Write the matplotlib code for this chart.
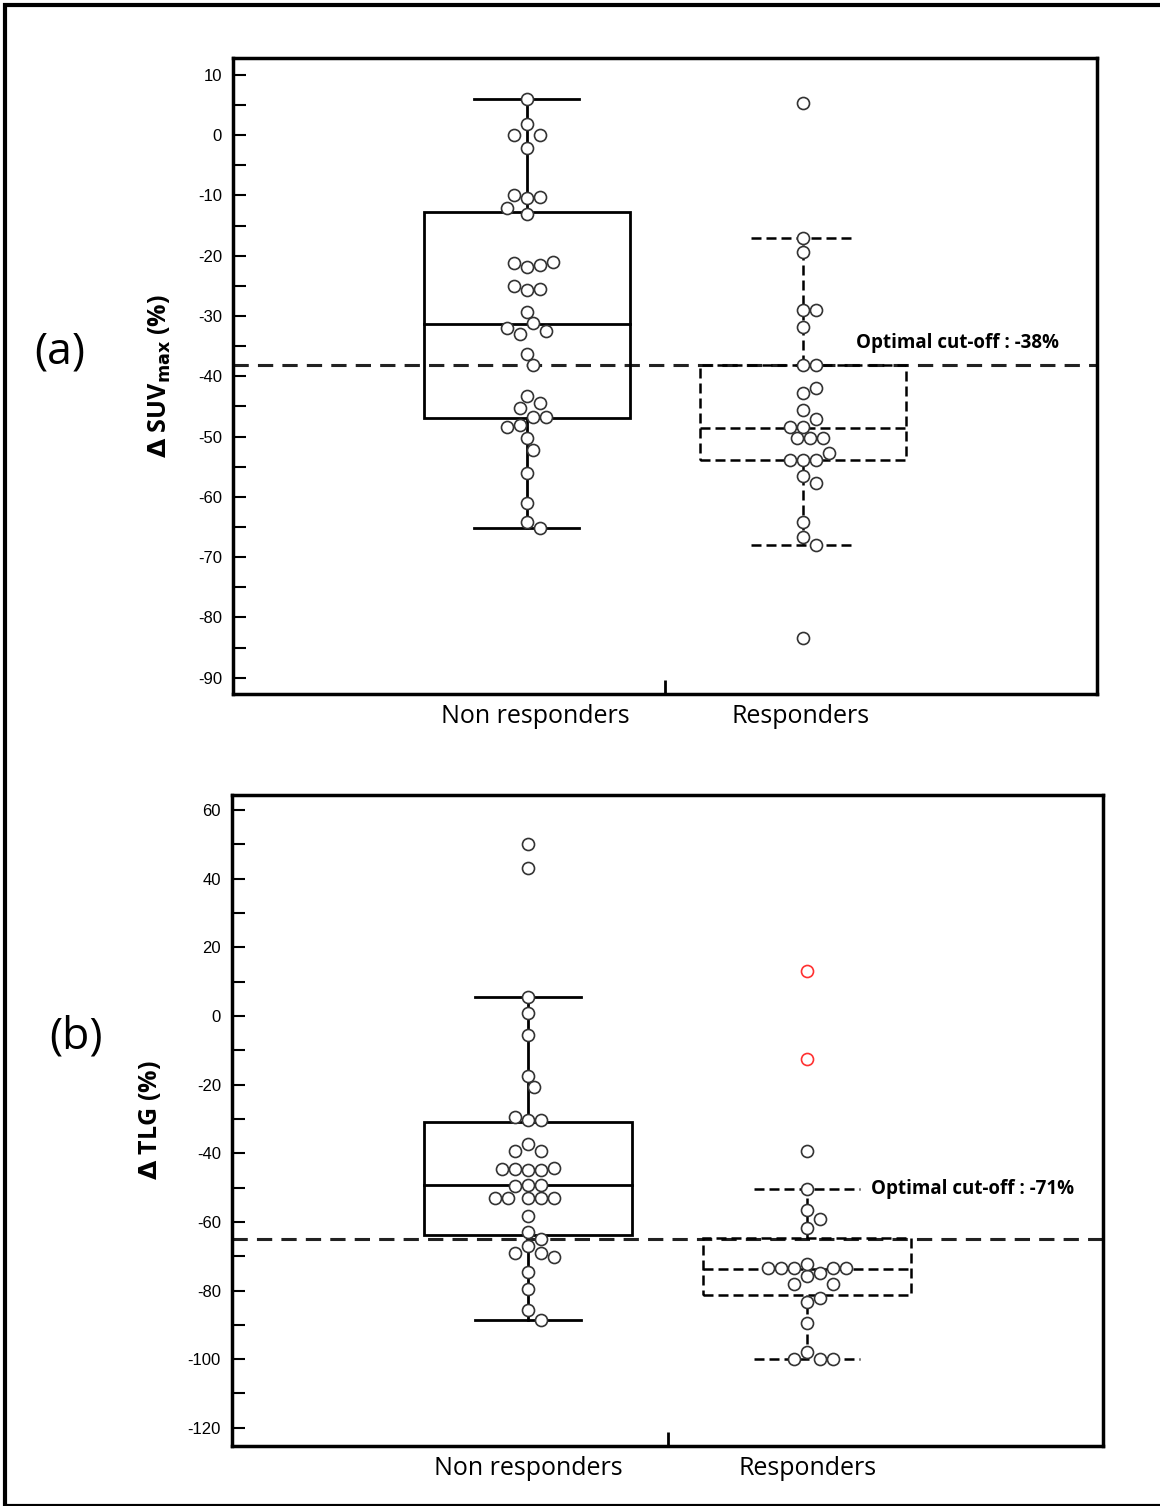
import numpy as np
import matplotlib
matplotlib.use("Agg")
import matplotlib.pyplot as plt
from matplotlib.patches import Rectangle

plt.rcParams['font.family'] = ['Open Sans', 'DejaVu Sans']

groups = ["Non responders", "Responders"]

# Panel (a): delta SUVmax (%)
suv_nr = [6, 1.8, 0, 0, -2.1, -10.5, -10.3, -10, -12, -13, -21.8, -21.5, -21.2, -21,
          -25.7, -25.5, -25, -29.3, -31.2, -33, -32.5, -32, -36.3, -38.2, -43.3, -44.5,
          -45.3, -46.7, -46.7, -48, -48.4, -50.3, -52.2, -56, -61, -64.1, -65.2]
suv_r = [5.3, -17, -19.3, -29, -29, -31.8, -38.2, -38.2, -42.8, -42, -45.6, -47, -48.4,
         -48.4, -50.3, -50.3, -50.3, -53.9, -53.9, -53.9, -52.8, -56.6, -57.7, -64.1,
         -66.6, -68, -83.4]
suv_stats = {  # whislo, q1, med, q3, whishi
    "Non responders": [-65.2, -46.9, -31.4, -12.7, 6],
    "Responders": [-68, -53.9, -48.6, -38.2, -17],
}
suv_cut = -38.2

# Panel (b): delta TLG (%)
tlg_nr = [50.1, 43.1, 5.5, 0.8, -5.6, -17.4, -20.6, -30.3, -30.3, -29.5, -37.3, -39.4, -39.4,
          -45, -45, -44.5, -44.3, -44.5, -49.2, -49.2, -49.5, -52.9, -52.9, -52.9, -52.9,
          -52.9, -58.2, -62.9, -65, -67, -69, -69, -70.2, -74.6, -79.5, -85.8, -88.6]
tlg_r = [-39.4, -50.3, -56.6, -59.2, -61.8, -75.9, -75, -73.3, -73.3, -73.3, -72.2,
         -73.3, -73.3, -78, -78, -83.2, -82.3, -89.5, -97.8, -100, -100, -100]
tlg_r_red = [13.1, -12.4]
tlg_stats = {
    "Non responders": [-88.6, -63.9, -49.3, -30.8, 5.5],
    "Responders": [-100, -81.4, -73.8, -64.7, -50.3],
}
tlg_cut = -65

W, H = 1160, 1506
fig = plt.figure(figsize=(W / 100, H / 100), dpi=100)
fig.patches.append(Rectangle((5 / W, 0), 1.2, (H - 5) / H, transform=fig.transFigure,
                             fill=False, lw=3, ec='black'))


def swarm(ax, vals, xc, d=13.0):
    pts = []
    trans = ax.transData
    out = []
    for v in vals:
        _, py = trans.transform((xc, v))
        xc_px, _ = trans.transform((xc, 0))
        for k in range(0, 20):
            cands = [0] if k == 0 else [k * d / 2, -k * d / 2]
            ok = None
            for c in cands:
                if all((c - a) ** 2 + (py - b) ** 2 >= d * d * 0.95 for a, b in pts):
                    ok = c
                    break
            if ok is not None:
                pts.append((ok, py))
                out.append(trans.inverted().transform((xc_px + ok, py))[0])
                break
    return out


def panel(rect, stats, nr, r, red, cut, ylim, yt, ylabel, letter, letter_pos, cut_text, cut_pos, labx):
    ax = fig.add_axes(rect)
    ax.set_xlim(-0.06, 3.06)
    ax.set_ylim(*ylim)
    for sp in ax.spines.values():
        sp.set_linewidth(2.5)
    for i, g in enumerate(groups):
        lo, q1, med, q3, hi = stats[g]
        ls = '-' if i == 0 else (0, (4, 2))
        lw = 2 if i == 0 else 1.8
        x = i + 1
        hw, cw = 0.372, 0.19
        ax.add_patch(Rectangle((x - hw, q1), 2 * hw, q3 - q1, fill=False, lw=lw, ls=ls, ec='black', zorder=2))
        ax.plot([x - hw, x + hw], [med, med], color='black', lw=lw, ls=ls, zorder=2)
        ax.plot([x, x], [q3, hi], color='black', lw=lw, ls=ls, zorder=2)
        ax.plot([x, x], [lo, q1], color='black', lw=lw, ls=ls, zorder=2)
        ax.plot([x - cw, x + cw], [hi, hi], color='black', lw=lw, ls=ls, zorder=2)
        ax.plot([x - cw, x + cw], [lo, lo], color='black', lw=lw, ls=ls, zorder=2)
    ax.axhline(cut, color='#222222', lw=2.2, ls=(0, (5, 3)), zorder=1)
    xs = swarm(ax, nr, 1)
    ax.scatter(xs, nr, s=75, facecolor='white', edgecolor='#333333', lw=1.2, zorder=3)
    xs = swarm(ax, r, 2)
    ax.scatter(xs, r, s=75, facecolor='white', edgecolor='#333333', lw=1.2, zorder=3)
    if red:
        ax.scatter([2] * len(red), red, s=75, facecolor='white', edgecolor='#ff3030', lw=1.2, zorder=3)
    ax.set_yticks(yt)
    ax.set_yticklabels([str(v) for v in yt], fontsize=12, family='Liberation Sans')
    step = yt[1] - yt[0]
    ax.set_yticks(np.arange(yt[0] + step / 2, yt[-1], step), minor=True)
    ax.tick_params(axis='y', which='both', direction='in', length=9, width=1.5, pad=8)
    ax.set_xticks([1.5])
    ax.set_xticklabels([''])
    ax.tick_params(axis='x', direction='in', length=10, width=2)
    ax.text(labx[0], -0.015, groups[0], transform=ax.get_xaxis_transform(), ha='center', va='top', fontsize=18)
    ax.text(labx[1], -0.015, groups[1], transform=ax.get_xaxis_transform(), ha='center', va='top', fontsize=18)
    ax.set_ylabel(ylabel, fontsize=18, fontweight='bold', labelpad=18)
    fig.text(letter_pos[0] / W, 1 - letter_pos[1] / H, letter, fontsize=32, ha='center', va='center')
    ax.text(cut_pos[0], cut_pos[1], cut_text, fontsize=13.5, fontweight='bold', ha='left', va='center')
    return ax


panel([233 / W, 1 - 694 / H, 864 / W, 636 / H], suv_stats, suv_nr, suv_r, None, suv_cut,
      (-92.7, 12.8), list(range(-90, 11, 10)), r'$\mathbf{\Delta}$ SUV$_{\mathbf{max}}$ (%)',
      '(a)', (60, 352), 'Optimal cut-off : -38%', (2.19, -34.5), (1.03, 1.99))
panel([232 / W, 1 - 1446 / H, 871 / W, 651 / H], tlg_stats, tlg_nr, tlg_r, tlg_r_red, tlg_cut,
      (-125.3, 64.4), list(range(-120, 61, 20)), r'$\mathbf{\Delta}$ TLG (%)',
      '(b)', (76, 1037), 'Optimal cut-off : -71%', (2.23, -50.3), (1.0, 2.0))

fig.savefig('out.png', dpi=100)
